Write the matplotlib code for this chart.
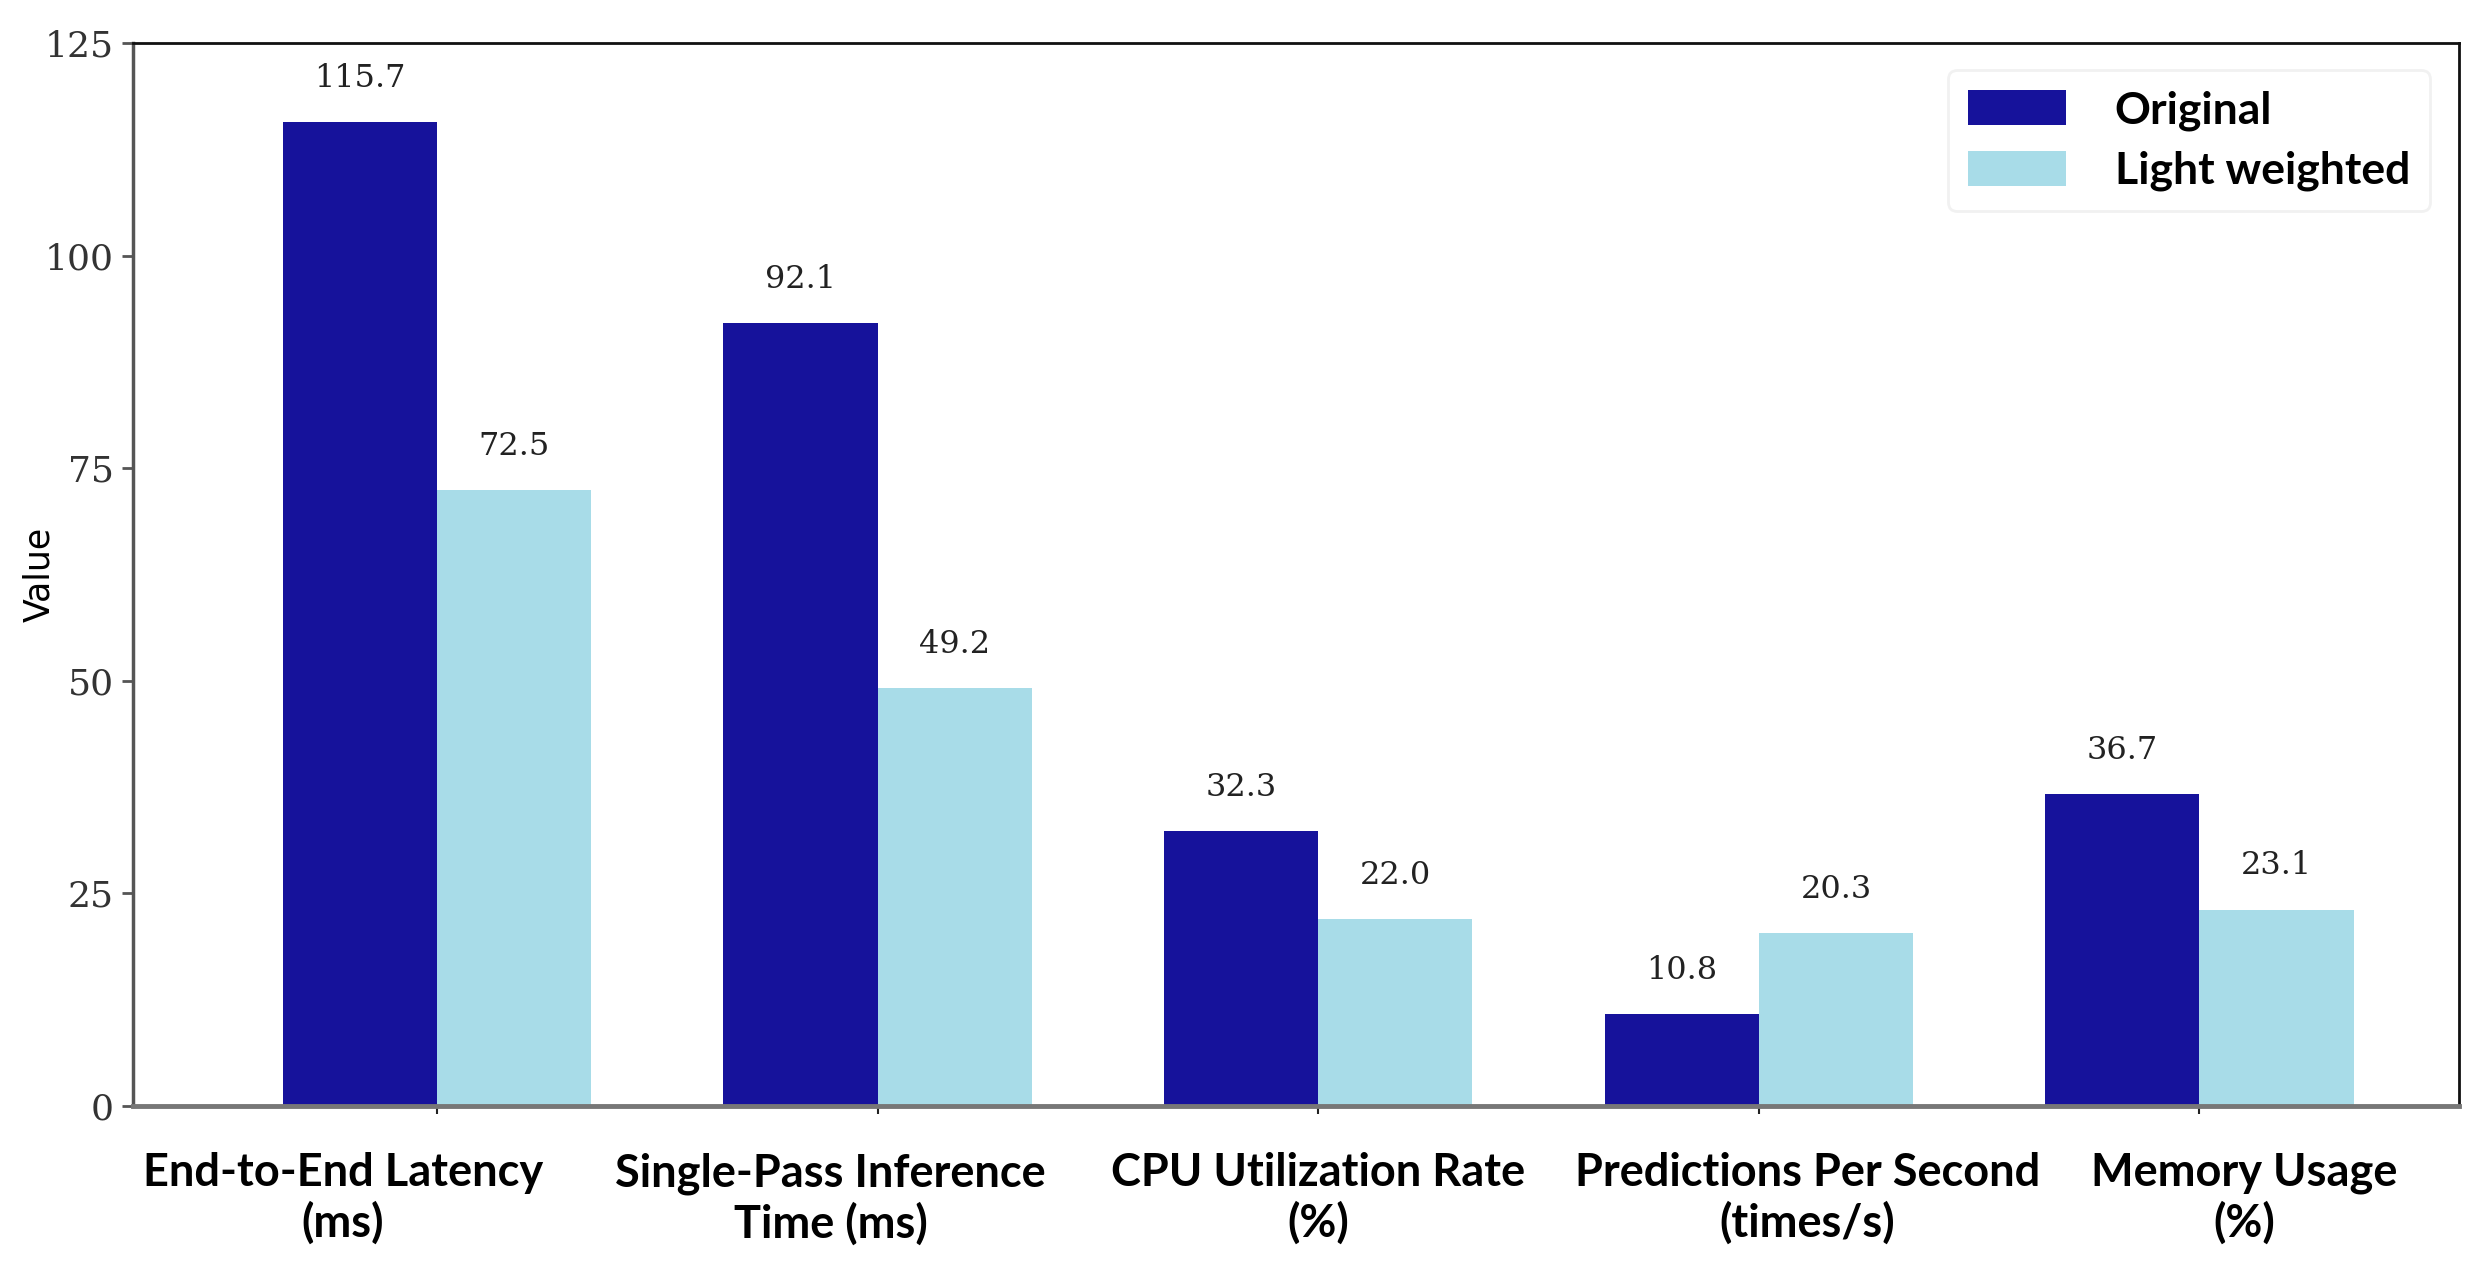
import matplotlib
matplotlib.use("Agg")
import matplotlib.pyplot as plt
import numpy as np

categories = ["End-to-End Latency\n(ms)", "Single-Pass Inference\nTime (ms)",
              "CPU Utilization Rate\n(%)", "Predictions Per Second\n(times/s)",
              "Memory Usage\n(%)"]
original = [115.7, 92.1, 32.3, 10.8, 36.7]
light_weighted = [72.5, 49.2, 22.0, 20.3, 23.1]
series_names = ["Original", "Light weighted"]
y_ticks = [0, 25, 50, 75, 100, 125]

# the category labels in the source sit a little off their ticks (points)
label_shift = [-68, -34, 0, 35, 32]

dark = "#16129B"
light = "#A8DCE8"

fig = plt.figure(figsize=(24.88, 12.77), dpi=100)
ax = fig.add_axes([0.0535, 0.134, 0.935, 0.832])

x = np.arange(len(categories))
width = 0.35
b1 = ax.bar(x - width / 2, original, width, color=dark, label=series_names[0])
b2 = ax.bar(x + width / 2, light_weighted, width, color=light, label=series_names[1])

# value labels above each bar
for bars, vals in [(b1, original), (b2, light_weighted)]:
    for rect, v in zip(bars, vals):
        ax.text(rect.get_x() + rect.get_width() / 2, v + 3.3, f"{v:.1f}",
                ha="center", va="bottom", fontsize=23, family="DejaVu Serif",
                color="#222222")

ax.set_xlim(-0.69, 4.59)
ax.set_ylim(0, 125)
ax.set_yticks(y_ticks)
ax.set_yticklabels([str(t) for t in y_ticks], family="DejaVu Serif", fontsize=26,
                   color="#333333")
ax.set_xticks(x)
ax.set_xticklabels([])
for xi, cat, dx in zip(x, categories, label_shift):
    ax.annotate(cat, xy=(xi, 0), xycoords=("data", "axes fraction"),
                xytext=(dx, -33.5), textcoords="offset points",
                ha="center", va="top", family="Lato", fontweight="bold",
                fontsize=32.5, linespacing=1.2, annotation_clip=False)
ax.tick_params(axis="y", length=8, width=2, color="#555555", pad=6)
ax.tick_params(axis="x", length=6, width=1.5, color="#222222")

ax.set_ylabel("Value", family="DejaVu Sans", fontsize=25)
ax.yaxis.set_label_coords(-0.033, 0.5)

for side in ["top", "right"]:
    ax.spines[side].set_color("#111111")
    ax.spines[side].set_linewidth(2)
ax.spines["left"].set_color("#555555")
ax.spines["left"].set_linewidth(2.5)
ax.spines["bottom"].set_color("#777777")
ax.spines["bottom"].set_linewidth(3.5)

leg = ax.legend(loc="upper right", bbox_to_anchor=(0.997, 0.996),
                prop={"family": "Lato", "weight": "bold", "size": 32},
                handlelength=2.2, handleheight=0.85, handletextpad=1.1,
                labelspacing=0.45, borderpad=0.45, frameon=True, fancybox=True)
leg.get_frame().set_edgecolor("#eeeeee")
leg.get_frame().set_linewidth(2)

fig.savefig("out.png", dpi=100)
